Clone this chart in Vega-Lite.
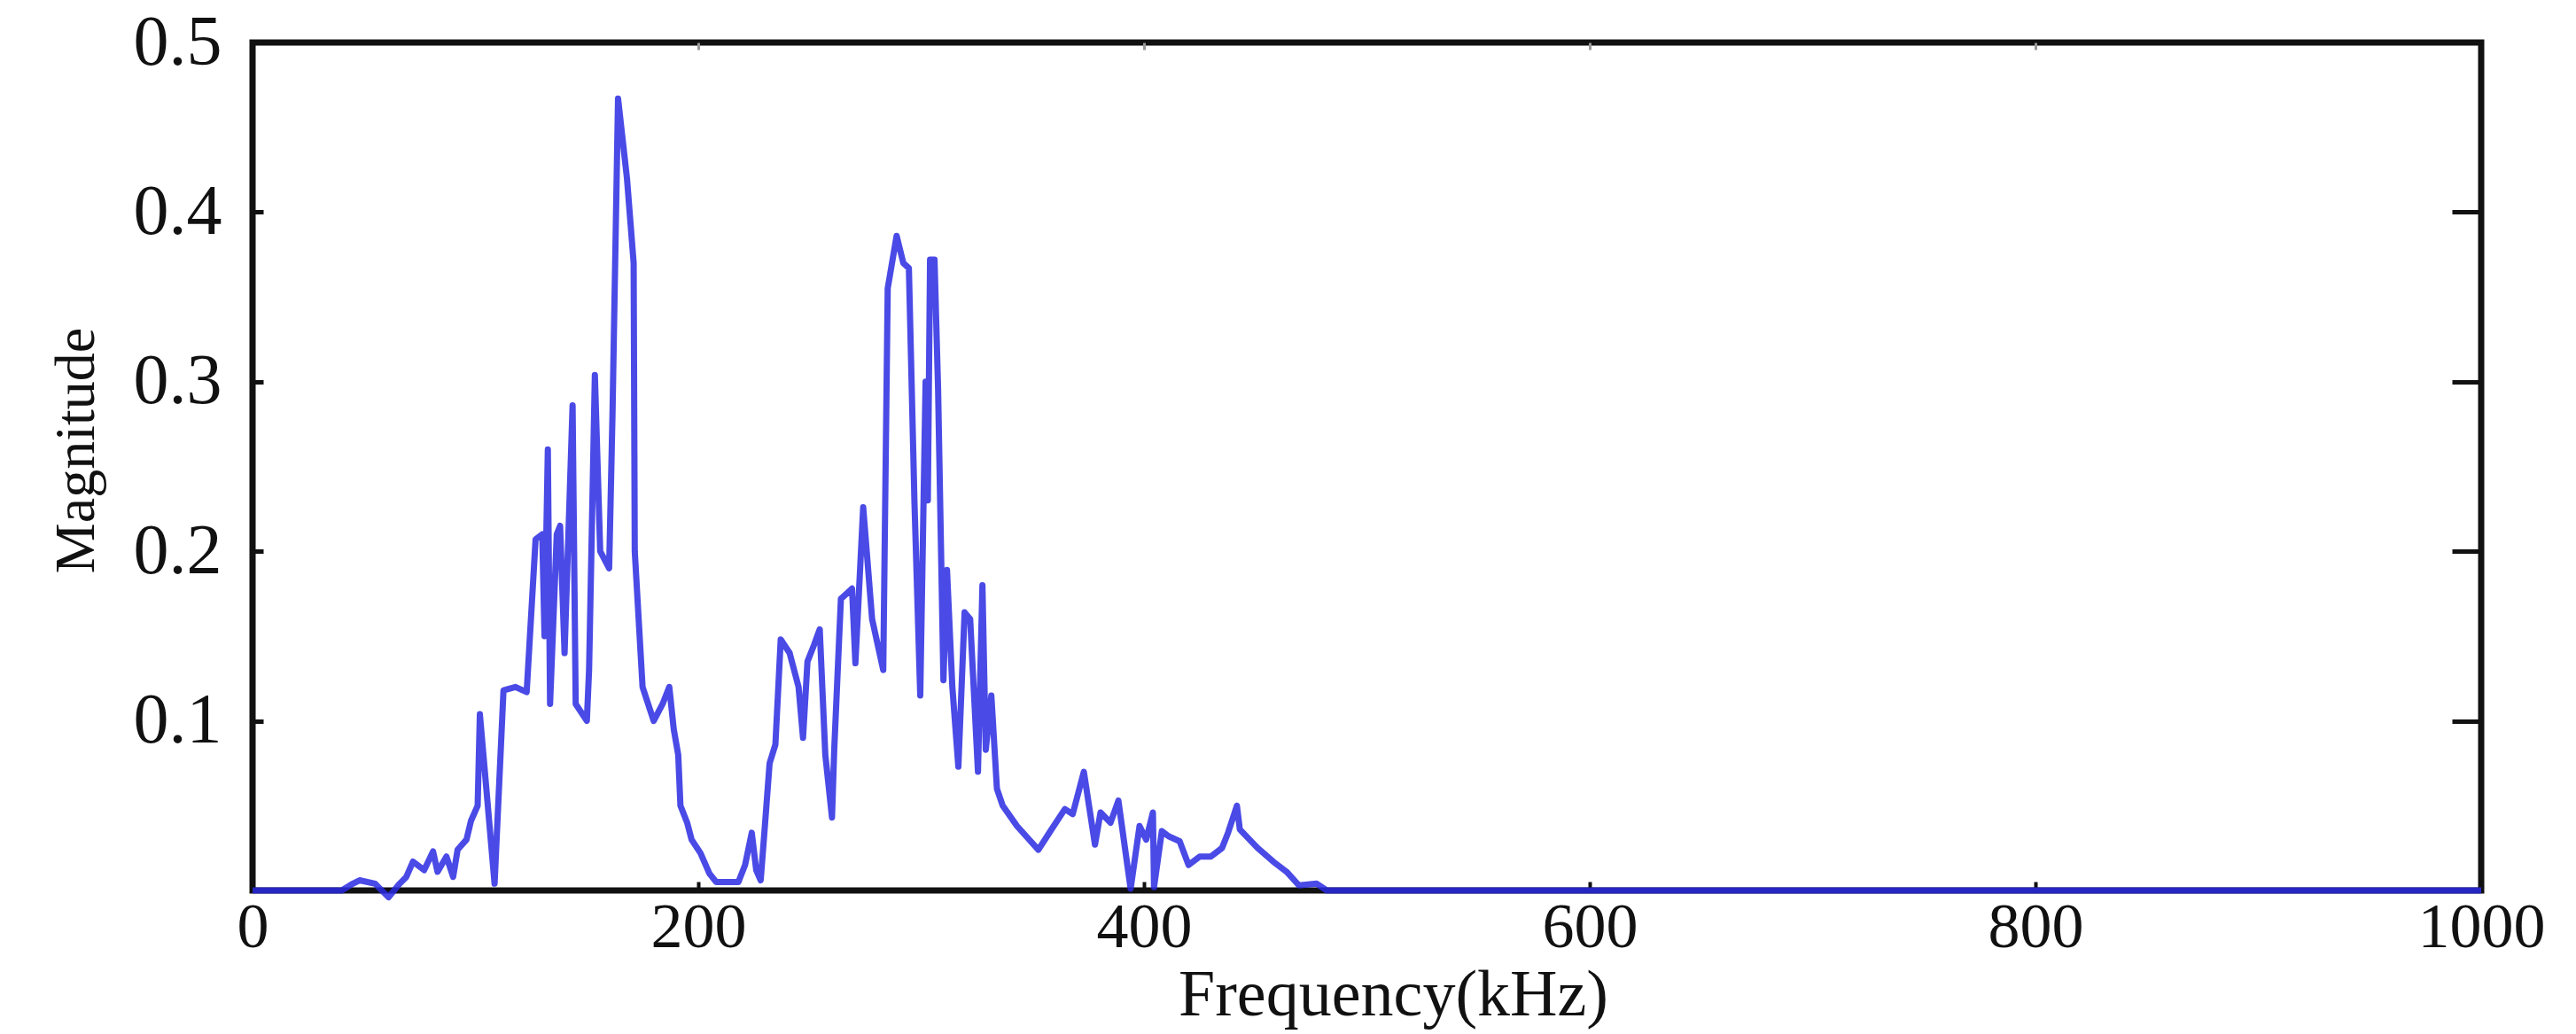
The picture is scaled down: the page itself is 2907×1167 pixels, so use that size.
{
  "$schema": "https://vega.github.io/schema/vega-lite/v6.json",
  "width": 2515,
  "height": 957,
  "autosize": {"type": "none"},
  "padding": {"left": 285, "top": 48, "right": 107, "bottom": 162},
  "background": "white",
  "config": {
    "font": "Liberation Serif",
    "view": {"stroke": "#111111", "strokeWidth": 7},
    "axis": {
      "domain": false,
      "grid": false,
      "tickColor": "#111111",
      "labelColor": "#111111",
      "titleColor": "#111111",
      "labelFont": "Liberation Serif",
      "titleFont": "Liberation Serif",
      "titleFontWeight": "normal",
      "labelFlush": false,
      "labelOverlap": false,
      "labelBound": false
    }
  },
  "data": {
    "values": [
      {"f": 0, "m": 0}, {"f": 40, "m": 0}, {"f": 45, "m": 0.004}, {"f": 48, "m": 0.006},
      {"f": 55, "m": 0.004}, {"f": 61, "m": -0.004}, {"f": 66, "m": 0.004}, {"f": 69, "m": 0.008},
      {"f": 72, "m": 0.017}, {"f": 77, "m": 0.012}, {"f": 81, "m": 0.023}, {"f": 83, "m": 0.011},
      {"f": 87, "m": 0.02}, {"f": 90, "m": 0.008}, {"f": 92, "m": 0.024}, {"f": 96, "m": 0.03},
      {"f": 98, "m": 0.041}, {"f": 101, "m": 0.05}, {"f": 102, "m": 0.104}, {"f": 108.6, "m": 0.004},
      {"f": 112.6, "m": 0.118}, {"f": 118, "m": 0.12}, {"f": 123, "m": 0.117}, {"f": 127, "m": 0.207},
      {"f": 130, "m": 0.21}, {"f": 131, "m": 0.15}, {"f": 132.5, "m": 0.26}, {"f": 133.5, "m": 0.11},
      {"f": 136.5, "m": 0.21}, {"f": 138, "m": 0.215}, {"f": 140, "m": 0.14}, {"f": 143.6, "m": 0.286},
      {"f": 145, "m": 0.11}, {"f": 150, "m": 0.1}, {"f": 151, "m": 0.13}, {"f": 153.6, "m": 0.304},
      {"f": 156, "m": 0.2}, {"f": 160, "m": 0.19}, {"f": 161.5, "m": 0.28}, {"f": 164, "m": 0.467},
      {"f": 168, "m": 0.42}, {"f": 171, "m": 0.37}, {"f": 171.5, "m": 0.2}, {"f": 175, "m": 0.12},
      {"f": 180, "m": 0.1}, {"f": 184, "m": 0.11}, {"f": 187, "m": 0.12}, {"f": 189, "m": 0.095},
      {"f": 191, "m": 0.08}, {"f": 192, "m": 0.05}, {"f": 195, "m": 0.04}, {"f": 197, "m": 0.03},
      {"f": 201, "m": 0.022}, {"f": 205, "m": 0.01}, {"f": 208, "m": 0.005}, {"f": 214, "m": 0.005},
      {"f": 218, "m": 0.005}, {"f": 221, "m": 0.015}, {"f": 224, "m": 0.034}, {"f": 226, "m": 0.012},
      {"f": 228, "m": 0.006}, {"f": 230, "m": 0.04}, {"f": 232, "m": 0.075}, {"f": 234.6, "m": 0.086},
      {"f": 237, "m": 0.148}, {"f": 241, "m": 0.14}, {"f": 245, "m": 0.12}, {"f": 247, "m": 0.09},
      {"f": 249, "m": 0.135}, {"f": 252, "m": 0.145}, {"f": 254.5, "m": 0.154}, {"f": 257, "m": 0.08},
      {"f": 260, "m": 0.043}, {"f": 261, "m": 0.083}, {"f": 264, "m": 0.172}, {"f": 269, "m": 0.178},
      {"f": 270.5, "m": 0.134}, {"f": 274, "m": 0.226}, {"f": 278, "m": 0.16}, {"f": 283, "m": 0.13},
      {"f": 285, "m": 0.355}, {"f": 289, "m": 0.386}, {"f": 292, "m": 0.37}, {"f": 294.5, "m": 0.367},
      {"f": 297, "m": 0.229}, {"f": 299.6, "m": 0.115}, {"f": 302, "m": 0.3}, {"f": 303, "m": 0.23},
      {"f": 304, "m": 0.372}, {"f": 306, "m": 0.372}, {"f": 307.6, "m": 0.296}, {"f": 310, "m": 0.124},
      {"f": 311.6, "m": 0.189}, {"f": 314, "m": 0.12}, {"f": 316.7, "m": 0.073}, {"f": 319.5, "m": 0.164},
      {"f": 322, "m": 0.16}, {"f": 325.5, "m": 0.07}, {"f": 327.5, "m": 0.18}, {"f": 329, "m": 0.083},
      {"f": 331.5, "m": 0.115}, {"f": 334, "m": 0.06}, {"f": 336.6, "m": 0.05}, {"f": 343, "m": 0.038},
      {"f": 352.6, "m": 0.024}, {"f": 358, "m": 0.035}, {"f": 364.5, "m": 0.048}, {"f": 368, "m": 0.045},
      {"f": 373, "m": 0.07}, {"f": 378, "m": 0.027}, {"f": 380.5, "m": 0.046}, {"f": 385, "m": 0.04},
      {"f": 388.5, "m": 0.053}, {"f": 394, "m": 0.001}, {"f": 398, "m": 0.038}, {"f": 401, "m": 0.03},
      {"f": 404, "m": 0.046}, {"f": 404.5, "m": 0.002}, {"f": 408, "m": 0.035}, {"f": 411, "m": 0.032},
      {"f": 416, "m": 0.029}, {"f": 420, "m": 0.015}, {"f": 425, "m": 0.02}, {"f": 430, "m": 0.02},
      {"f": 435, "m": 0.025}, {"f": 437.7, "m": 0.034}, {"f": 441.7, "m": 0.05}, {"f": 443, "m": 0.036},
      {"f": 451, "m": 0.025}, {"f": 458, "m": 0.017}, {"f": 464, "m": 0.011}, {"f": 469.5, "m": 0.003},
      {"f": 477.5, "m": 0.004}, {"f": 482, "m": 0}, {"f": 1000, "m": 0}
    ]
  },
  "layer": [
    {
      "mark": {"type": "line", "opacity": 0},
      "encoding": {
        "x": {
          "field": "f", "type": "quantitative",
          "scale": {"domain": [0, 1000], "nice": false},
          "axis": {"orient": "top", "values": [200, 400, 600, 800], "labels": false, "title": null,
                   "tickSize": -8, "tickWidth": 3, "tickColor": "#9a9a9a"}
        },
        "y": {
          "field": "m", "type": "quantitative",
          "scale": {"domain": [0, 0.5], "nice": false, "zero": false},
          "axis": {"orient": "right", "values": [0.1, 0.2, 0.3, 0.4], "labels": false, "title": null,
                   "tickSize": -33, "tickWidth": 5}
        }
      }
    },
    {
      "mark": {"type": "line", "color": "#2a2ae2", "opacity": 0.85, "strokeWidth": 7, "strokeJoin": "round", "clip": false},
      "encoding": {
        "x": {
          "field": "f", "type": "quantitative",
          "scale": {"domain": [0, 1000], "nice": false},
          "axis": {"orient": "bottom", "values": [0, 200, 400, 600, 800, 1000], "format": "d",
                   "tickSize": -10, "tickWidth": 4, "labelFontSize": 72, "labelPadding": 16,
                   "title": "Frequency(kHz)", "titleFontSize": 74, "titlePadding": 5, "titleX": 1287}
        },
        "y": {
          "field": "m", "type": "quantitative",
          "scale": {"domain": [0, 0.5], "nice": false, "zero": false},
          "axis": {"orient": "left", "values": [0.1, 0.2, 0.3, 0.4, 0.5], "format": ".1f",
                   "tickSize": -12, "tickWidth": 5, "labelFontSize": 80, "labelPadding": 47,
                   "title": "Magnitude", "titleFontSize": 64, "titlePadding": 32, "titleY": 460}
        }
      }
    }
  ],
  "resolve": {"axis": {"x": "independent", "y": "independent"}}
}
